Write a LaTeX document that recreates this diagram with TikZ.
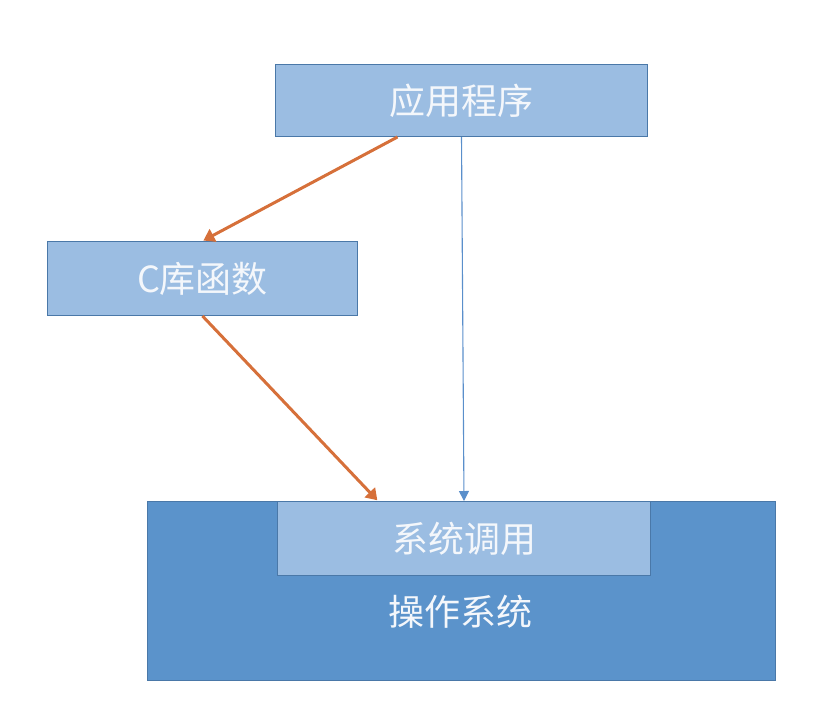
\documentclass[tikz,border=0pt]{standalone}
\usepackage{fontspec}
\newfontfamily\cjk{Noto Sans CJK SC}
\usetikzlibrary{arrows.meta,positioning}
\definecolor{lightbox}{HTML}{9BBDE2}
\definecolor{boxedge}{HTML}{4A78A8}
\definecolor{osfill}{HTML}{5B93CB}
\definecolor{arrorange}{HTML}{D6703A}
\definecolor{arrblue}{HTML}{5A8FCB}
\definecolor{textwhite}{HTML}{F4F7FB}
\tikzset{
  lbox/.style={draw=boxedge, line width=1pt, fill=lightbox, minimum width=#1, inner sep=0pt, text=textwhite, font=\cjk\fontsize{36}{40}\selectfont},
  orangearrow/.style={draw=arrorange, line width=3pt, -{Triangle[length=11pt,width=14pt]}, shorten >=1pt},
  bluearrow/.style={draw=arrblue, line width=1.1pt, -{Triangle[length=10pt,width=10pt]}},
}
\begin{document}
\begin{tikzpicture}[x=1pt,y=-1pt]
\useasboundingbox (0,0) rectangle (827,705);
% OS box
\node[draw=boxedge, line width=1pt, fill=osfill, minimum width=628pt, minimum height=179pt, inner sep=0pt, anchor=north west] (os) at (147,501) {};
\node[text=textwhite, font=\cjk\fontsize{36}{40}\selectfont] (ostext) at (460,612) {操作系统};
% boxes
\node[lbox=372pt, minimum height=72pt, anchor=north west] (app) at (275,64) {应用程序};
\node[lbox=310pt, minimum height=74pt, anchor=north west] (clib) at (47,241) {C库函数};
\node[lbox=373pt, minimum height=74pt, anchor=north west] (sys) at (277,501) {系统调用};
% arrows
\draw[orangearrow] ([xshift=-64pt]app.south) -- (clib.north);
\draw[orangearrow] (clib.south) -- ([xshift=-86pt]sys.north);
\draw[bluearrow] (app.south) -- (sys.north);
\end{tikzpicture}
\end{document}
